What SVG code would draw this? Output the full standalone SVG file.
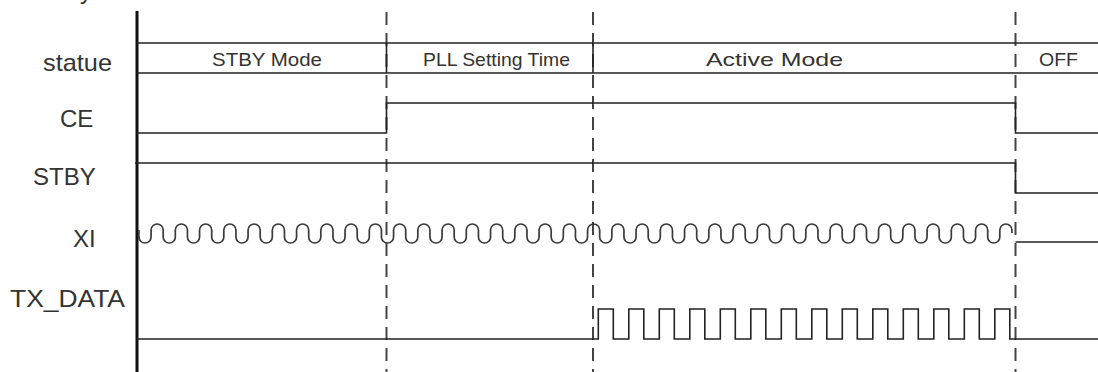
<svg xmlns="http://www.w3.org/2000/svg" width="1098" height="372" viewBox="0 0 1098 372">
<style>
.lbl{font-family:"Liberation Sans",Arial,sans-serif;font-size:24px;fill:#333}
.st{font-family:"Liberation Sans",Arial,sans-serif;font-size:19px;fill:#333}
.sig{fill:none;stroke:#222;stroke-width:1.6}
.wave{fill:none;stroke:#3a3a3a;stroke-width:1.7}
.dash{fill:none;stroke:#444;stroke-width:2;stroke-dasharray:13 8}
</style>
<rect width="1098" height="372" fill="#fff"/>
<text class="lbl" x="80" y="-1">y</text>
<g id="connectors">
<line class="dash" x1="386.5" y1="12" x2="386.5" y2="372"/>
<line class="dash" x1="593" y1="12" x2="593" y2="372"/>
<line class="dash" x1="1015.5" y1="12" x2="1015.5" y2="372"/>
</g>
<g id="axis"><line x1="137" y1="11" x2="137" y2="372" stroke="#111" stroke-width="3"/></g>
<g id="statue">
<text class="lbl" x="43" y="71" textLength="69" lengthAdjust="spacingAndGlyphs">statue</text>
<line class="sig" x1="137" y1="43" x2="1098" y2="43"/>
<line class="sig" x1="137" y1="73" x2="1098" y2="73"/>
<line class="sig" x1="386.5" y1="43" x2="386.5" y2="73"/>
<line class="sig" x1="593" y1="43" x2="593" y2="73"/>
<text class="st" x="212" y="66" textLength="110" lengthAdjust="spacingAndGlyphs">STBY Mode</text>
<text class="st" x="423" y="66" textLength="147" lengthAdjust="spacingAndGlyphs">PLL Setting Time</text>
<text class="st" x="706" y="66" textLength="137" lengthAdjust="spacingAndGlyphs">Active Mode</text>
<text class="st" x="1039" y="66" textLength="39" lengthAdjust="spacingAndGlyphs">OFF</text>
</g>
<g id="ce">
<text class="lbl" x="60" y="127">CE</text>
<path class="sig" d="M137 133H386.5V103H1015.5V133H1098"/>
</g>
<g id="stby">
<text class="lbl" x="33" y="185">STBY</text>
<path class="sig" d="M135 163H1015.5V193H1098"/>
</g>
<g id="xi">
<text class="lbl" x="73" y="247">XI</text>
<path class="wave" d="M138.94 230.06v6.88a6.0625 6.0625 0 0 0 12.125 0
v-6.88a6.0625 6.0625 0 0 1 12.125 0v6.88a6.0625 6.0625 0 0 0 12.125 0
v-6.88a6.0625 6.0625 0 0 1 12.125 0v6.88a6.0625 6.0625 0 0 0 12.125 0
v-6.88a6.0625 6.0625 0 0 1 12.125 0v6.88a6.0625 6.0625 0 0 0 12.125 0
v-6.88a6.0625 6.0625 0 0 1 12.125 0v6.88a6.0625 6.0625 0 0 0 12.125 0
v-6.88a6.0625 6.0625 0 0 1 12.125 0v6.88a6.0625 6.0625 0 0 0 12.125 0
v-6.88a6.0625 6.0625 0 0 1 12.125 0v6.88a6.0625 6.0625 0 0 0 12.125 0
v-6.88a6.0625 6.0625 0 0 1 12.125 0v6.88a6.0625 6.0625 0 0 0 12.125 0
v-6.88a6.0625 6.0625 0 0 1 12.125 0v6.88a6.0625 6.0625 0 0 0 12.125 0
v-6.88a6.0625 6.0625 0 0 1 12.125 0v6.88a6.0625 6.0625 0 0 0 12.125 0
v-6.88a6.0625 6.0625 0 0 1 12.125 0v6.88a6.0625 6.0625 0 0 0 12.125 0
v-6.88a6.0625 6.0625 0 0 1 12.125 0v6.88a6.0625 6.0625 0 0 0 12.125 0
v-6.88a6.0625 6.0625 0 0 1 12.125 0v6.88a6.0625 6.0625 0 0 0 12.125 0
v-6.88a6.0625 6.0625 0 0 1 12.125 0v6.88a6.0625 6.0625 0 0 0 12.125 0
v-6.88a6.0625 6.0625 0 0 1 12.125 0v6.88a6.0625 6.0625 0 0 0 12.125 0
v-6.88a6.0625 6.0625 0 0 1 12.125 0v6.88a6.0625 6.0625 0 0 0 12.125 0
v-6.88a6.0625 6.0625 0 0 1 12.125 0v6.88a6.0625 6.0625 0 0 0 12.125 0
v-6.88a6.0625 6.0625 0 0 1 12.125 0v6.88a6.0625 6.0625 0 0 0 12.125 0
v-6.88a6.0625 6.0625 0 0 1 12.125 0v6.88a6.0625 6.0625 0 0 0 12.125 0
v-6.88a6.0625 6.0625 0 0 1 12.125 0v6.88a6.0625 6.0625 0 0 0 12.125 0
v-6.88a6.0625 6.0625 0 0 1 12.125 0v6.88a6.0625 6.0625 0 0 0 12.125 0
v-6.88a6.0625 6.0625 0 0 1 12.125 0v6.88a6.0625 6.0625 0 0 0 12.125 0
v-6.88a6.0625 6.0625 0 0 1 12.125 0v6.88a6.0625 6.0625 0 0 0 12.125 0
v-6.88a6.0625 6.0625 0 0 1 12.125 0v6.88a6.0625 6.0625 0 0 0 12.125 0
v-6.88a6.0625 6.0625 0 0 1 12.125 0v6.88a6.0625 6.0625 0 0 0 12.125 0
v-6.88a6.0625 6.0625 0 0 1 12.125 0v6.88a6.0625 6.0625 0 0 0 12.125 0
v-6.88a6.0625 6.0625 0 0 1 12.125 0v6.88a6.0625 6.0625 0 0 0 12.125 0
v-6.88a6.0625 6.0625 0 0 1 12.125 0v6.88a6.0625 6.0625 0 0 0 12.125 0
v-6.88a6.0625 6.0625 0 0 1 12.125 0v6.88a6.0625 6.0625 0 0 0 12.125 0
v-6.88a6.0625 6.0625 0 0 1 12.125 0v6.88a6.0625 6.0625 0 0 0 12.125 0
v-6.88a6.0625 6.0625 0 0 1 12.125 0v6.88a6.0625 6.0625 0 0 0 12.125 0
v-6.88a6.0625 6.0625 0 0 1 12.125 0v6.88a6.0625 6.0625 0 0 0 12.125 0
v-6.88a6.0625 6.0625 0 0 1 12.125 0v6.88a6.0625 6.0625 0 0 0 12.125 0
v-6.88a6.0625 6.0625 0 0 1 12.125 0v6.88a6.0625 6.0625 0 0 0 12.125 0
v-6.88a6.0625 6.0625 0 0 1 12.125 0v6.88a6.0625 6.0625 0 0 0 12.125 0
v-6.88a6.0625 6.0625 0 0 1 12.125 0v6.88a6.0625 6.0625 0 0 0 12.125 0
v-6.88a6.0625 6.0625 0 0 1 12.125 0v3"/>
<path class="sig" d="M1015.5 242H1098"/>
</g>
<g id="tx_data">
<text class="lbl" x="10" y="307" textLength="115" lengthAdjust="spacingAndGlyphs">TX_DATA</text>
<path class="sig" d="M137 339H598.3V309H613.3V339H628.8V309H643.8V339H659.3V309H674.3V339H689.8V309H704.8V339H720.3V309H735.3V339H750.8V309H765.8V339H781.3V309H796.3V339H811.8V309H826.8V339H842.3V309H857.3V339H872.8V309H887.8V339H903.3V309H918.3V339H933.8V309H948.8V339H964.3V309H979.3V339H994.8V309H1009.8V339H1098"/>
</g>
</svg>
